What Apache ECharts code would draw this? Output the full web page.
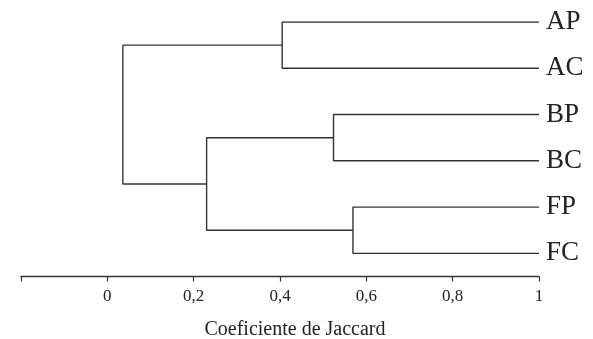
<!DOCTYPE html>
<html>
<head>
<meta charset="utf-8">
<script src="https://cdn.jsdelivr.net/npm/echarts@6/dist/echarts.min.js"></script>
<style>
  html, body { margin: 0; padding: 0; background: #fff; }
  #chart { width: 593px; height: 339px; }
</style>
</head>
<body>
<div id="chart"></div>
<script>
// leaves from top to bottom
const leaves = ['AP', 'AC', 'BP', 'BC', 'FP', 'FC'];
// merges: [child a, child b, jaccard level]; children are leaf names or earlier merge ids (m0, m1, ...)
const merges = [
  ['AP', 'AC', 0.405],
  ['BP', 'BC', 0.524],
  ['FP', 'FC', 0.569],
  ['m1', 'm2', 0.230],
  ['m0', 'm3', 0.036]
];
const xTicks = [-0.2, 0, 0.2, 0.4, 0.6, 0.8, 1];

const lineColor = '#333';
const font = 'Liberation Serif';

// position of each node: x = level, y = leaf index (midpoint for merges)
const pos = {};
leaves.forEach((name, i) => { pos[name] = [1, i]; });

const series = [];
merges.forEach((m, i) => {
  const a = pos[m[0]], b = pos[m[1]], h = m[2];
  pos['m' + i] = [h, (a[1] + b[1]) / 2];
  series.push({
    type: 'line',
    symbol: 'none',
    silent: true,
    animation: false,
    lineStyle: { color: lineColor, width: 1.4 },
    data: [[a[0], a[1]], [h, a[1]], [h, b[1]], [b[0], b[1]]]
  });
});

const chart = echarts.init(document.getElementById('chart'));
chart.setOption({
  backgroundColor: '#fff',
  grid: { left: 21, right: 54, top: 22, bottom: 62.5, outerBoundsMode: 'none' },
  xAxis: {
    type: 'value',
    position: 'bottom',
    min: xTicks[0],
    max: xTicks[xTicks.length - 1],
    interval: 0.2,
    axisLine: { show: true, onZero: false, lineStyle: { color: lineColor, width: 1.4 } },
    axisTick: { show: true, length: 5, lineStyle: { color: lineColor, width: 1.2 } },
    splitLine: { show: false },
    axisLabel: {
      margin: 12,
      color: '#222',
      fontFamily: font,
      fontSize: 17,
      formatter: v => v < -0.01 ? '' : String(Math.round(v * 10) / 10).replace('.', ',')
    },
    name: 'Coeficiente de Jaccard',
    nameLocation: 'middle',
    nameGap: 43,
    nameTextStyle: { color: '#222', fontFamily: font, fontSize: 20, padding: [0, 0, 0, 30] }
  },
  yAxis: {
    type: 'value',
    inverse: true,
    position: 'right',
    min: 0,
    max: 5.5,
    interval: 1,
    axisLine: { show: false },
    axisTick: { show: false },
    splitLine: { show: false },
    axisLabel: {
      margin: 7,
      color: '#222',
      fontFamily: font,
      fontSize: 27,
      formatter: v => Number.isInteger(v) && leaves[v] ? leaves[v] : ''
    }
  },
  series: series
});
</script>
</body>
</html>
